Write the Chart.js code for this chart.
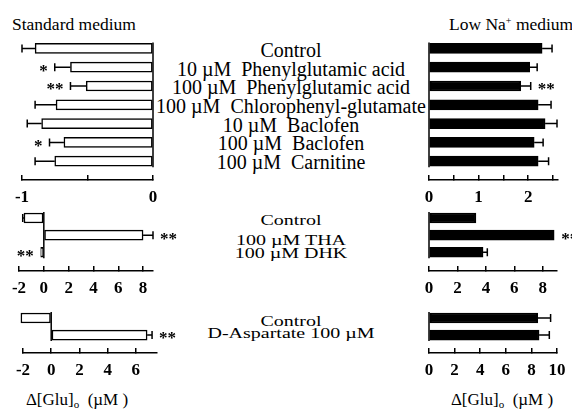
<!DOCTYPE html>
<html>
<head>
<meta charset="utf-8">
<script src="https://cdn.jsdelivr.net/npm/chart.js@4.4.1/dist/chart.umd.min.js"></script>
<style>
  body { margin: 0; background: #fff; }
  #fig { position: relative; width: 572px; height: 412px; overflow: hidden; font-family: 'Liberation Serif', serif; color: #000; }
  #fig canvas, .txt { position: absolute; }
  .txt { white-space: pre; line-height: 18px; font-size: 20px; }
  .title { font-size: 17.5px; }
  .mid { transform: translateX(-50%); }
  .squat { transform: translateX(-50%) scaleY(0.76); }
  .axt { font-size: 17px; }
  sub { font-size: 11px; vertical-align: -3px; line-height: 0; }
  sup { font-size: 10px; vertical-align: 6px; line-height: 0; }
</style>
</head>
<body>
<div id="fig">
  <div class="txt title" style="left:12px; top:15px;">Standard medium</div>
  <div class="txt title" style="left:449px; top:15px;">Low Na<sup>+</sup> medium</div>
  <div id="labels"></div>
  <div class="txt axt mid" style="left:77px; top:391px;">Δ[Glu]<sub>o</sub>  (µM )</div>
  <div class="txt axt mid" style="left:502px; top:391px;">Δ[Glu]<sub>o</sub>  (µM )</div>

  <canvas id="stdTop" width="175" height="180" style="left:0; top:30px;"></canvas>
  <canvas id="lowTop" width="172" height="180" style="left:400px; top:30px;"></canvas>
  <canvas id="stdMid" width="190" height="90" style="left:0; top:205px;"></canvas>
  <canvas id="lowMid" width="172" height="90" style="left:400px; top:205px;"></canvas>
  <canvas id="stdBot" width="190" height="80" style="left:0; top:300px;"></canvas>
  <canvas id="lowBot" width="172" height="80" style="left:400px; top:300px;"></canvas>
</div>
<script>
// ---- data ----
const drugsTop = ['Control', '10 µM  Phenylglutamic acid', '100 µM  Phenylglutamic acid',
  '100 µM  Chlorophenyl-glutamate', '10 µM  Baclofen', '100 µM  Baclofen', '100 µM  Carnitine'];
const stdTop = [-0.90, -0.63, -0.51, -0.74, -0.85, -0.68, -0.75];
const stdTopErr = [0.10, 0.12, 0.12, 0.16, 0.11, 0.11, 0.15];
const stdTopSig = ['', '*', '**', '', '', '*', ''];
const lowTop = [2.28, 2.03, 1.85, 2.20, 2.34, 2.12, 2.20];
const lowTopErr = [0.20, 0.15, 0.20, 0.26, 0.24, 0.18, 0.21];
const lowTopSig = ['', '', '**', '', '', '', ''];

const drugsMid = ['Control', '100 µM THA', '100 µM DHK'];
const stdMid = [-1.6, 8.0, -0.25];
const stdMidErr = [0.1, 0.8, 0];
const stdMidSig = ['', '**', '**'];
const lowMid = [3.3, 8.8, 3.8];
const lowMidErr = [0, 0, 0.3];
const lowMidSig = ['', '**', ''];

const drugsBot = ['Control', 'D-Aspartate 100 µM'];
const stdBot = [-2.15, 6.8];
const stdBotErr = [0, 0.35];
const stdBotSig = ['', '**'];
const lowBot = [8.5, 8.6];
const lowBotErr = [1.0, 0.8];
const lowBotSig = ['', ''];

// ---- centre labels (text tops in px) ----
const labelTops = [
  [drugsTop, [41, 59.7, 78.4, 97, 115.7, 134.4, 153], 'txt mid'],
  [drugsMid, [211, 231, 243.5], 'txt squat'],
  [drugsBot, [312, 323.5], 'txt squat']
];
const box = document.getElementById('labels');
labelTops.forEach(([names, tops, cls]) => names.forEach((n, i) => {
  const d = document.createElement('div');
  d.className = cls;
  d.style.left = '291px';
  d.style.top = tops[i] + 'px';
  d.textContent = n;
  box.appendChild(d);
}));

// error bars, significance marks and the zero line
const extras = {
  id: 'extras',
  afterDatasetsDraw(chart, args, opts) {
    const ctx = chart.ctx, xs = chart.scales.x;
    const meta = chart.getDatasetMeta(0);
    const ds = chart.data.datasets[0];
    const x0 = xs.getPixelForValue(0);
    ctx.save();
    ctx.strokeStyle = '#000';
    ctx.fillStyle = '#000';
    ctx.lineWidth = 1.5;
    const first = meta.data[0], last = meta.data[meta.data.length - 1];
    ctx.beginPath();
    ctx.moveTo(x0, first.y - first.height / 2 - 1);
    ctx.lineTo(x0, last.y + last.height / 2 + 1);
    ctx.stroke();
    meta.data.forEach((bar, i) => {
      const v = ds.data[i].x, e = opts.err[i] || 0, dir = v < 0 ? -1 : 1;
      const xe = xs.getPixelForValue(v + dir * e);
      if (e > 0) {
        ctx.beginPath();
        ctx.moveTo(bar.x, bar.y); ctx.lineTo(xe, bar.y);
        ctx.moveTo(xe, bar.y - 4); ctx.lineTo(xe, bar.y + 4);
        ctx.stroke();
      }
      if (opts.sig[i]) {
        ctx.font = 'bold 17px "Liberation Serif"';
        ctx.textAlign = dir < 0 ? 'right' : 'left';
        ctx.textBaseline = 'middle';
        ctx.fillText(opts.sig[i], xe + dir * 7, bar.y + 4);
      }
    });
    ctx.restore();
  }
};

function panel(id, names, vals, err, sig, fill, xo, yMax) {
  new Chart(document.getElementById(id), {
    type: 'bar',
    data: {
      labels: names,
      datasets: [{
        data: vals.map((v, i) => ({ x: v, y: i })),
        backgroundColor: fill,
        borderColor: '#000',
        borderWidth: 1.5,
        borderSkipped: false,
        barThickness: 10,
        clip: false
      }]
    },
    options: {
      indexAxis: 'y',
      responsive: false,
      animation: false,
      layout: { padding: xo.pad },
      plugins: { legend: { display: false }, tooltip: { enabled: false }, extras: { err, sig } },
      scales: {
        y: { type: 'linear', display: false, offset: false, reverse: true, min: -0.5, max: yMax },
        x: {
          min: xo.min, max: xo.max,
          ticks: {
            stepSize: xo.step, includeBounds: false, padding: 12, color: '#000',
            font: { family: 'Liberation Serif', size: 17, weight: 'bold' },
            callback: v => Number.isInteger(v) ? String(v) : ''
          },
          grid: { drawOnChartArea: false, tickLength: -5, color: '#000', lineWidth: 1.5 },
          border: { color: '#000', width: 1.5 },
          afterFit: s => { s.height = xo.h; s.paddingLeft = 0; s.paddingRight = 0; }
        }
      }
    },
    plugins: [extras]
  });
}

const open = '#fff', solid = '#000';
panel('stdTop', drugsTop, stdTop, stdTopErr, stdTopSig, open,
  { min: -1, max: 0, step: 0.5, h: 30, pad: { left: 22, right: 22, top: 9, bottom: 0 } }, 7.0);
panel('lowTop', drugsTop, lowTop, lowTopErr, lowTopSig, solid,
  { min: 0, max: 2.6, step: 0.5, h: 30, pad: { left: 29, right: 14, top: 9, bottom: 0 } }, 7.0);
panel('stdMid', drugsMid, stdMid, stdMidErr, stdMidSig, open,
  { min: -2, max: 8.8, step: 2, h: 24, pad: { left: 19, right: 37, top: 4.5, bottom: 0 } }, 3.1);
panel('lowMid', drugsMid, lowMid, lowMidErr, lowMidSig, solid,
  { min: 0, max: 9, step: 2, h: 24, pad: { left: 29, right: 15, top: 4.5, bottom: 0 } }, 3.1);
panel('stdBot', drugsBot, stdBot, stdBotErr, stdBotSig, open,
  { min: -2, max: 7.5, step: 2, h: 27, pad: { left: 23, right: 33, top: 9.5, bottom: 0 } }, 2.05);
panel('lowBot', drugsBot, lowBot, lowBotErr, lowBotSig, solid,
  { min: 0, max: 10, step: 2, h: 27, pad: { left: 29, right: 15, top: 9.5, bottom: 0 } }, 2.05);
</script>
</body>
</html>
